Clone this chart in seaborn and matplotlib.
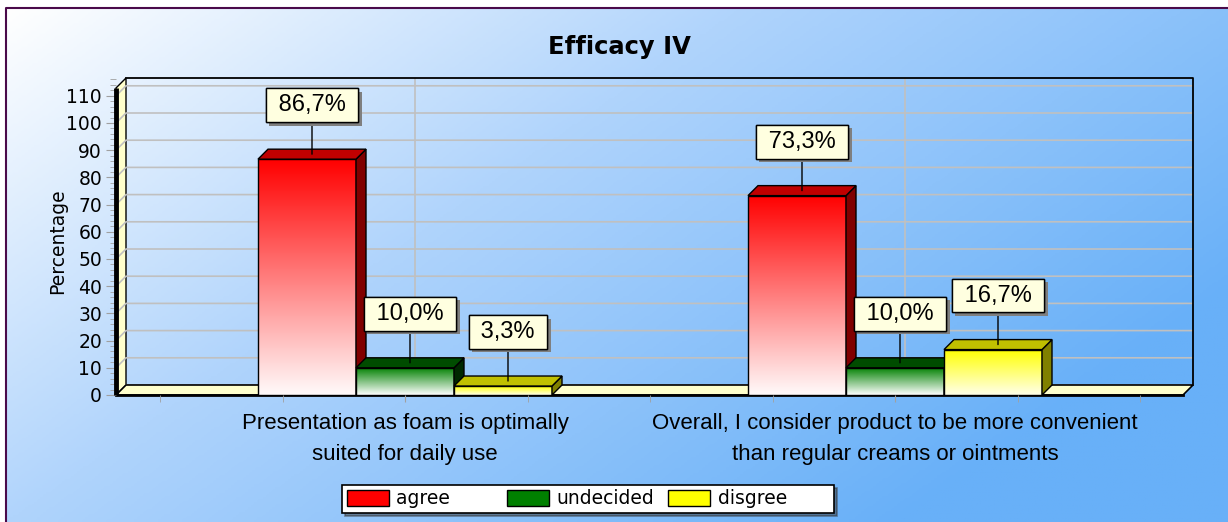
import numpy as np
import pandas as pd
import matplotlib
matplotlib.use("Agg")
import matplotlib.pyplot as plt
import matplotlib.patheffects as pe
from matplotlib import font_manager
from matplotlib.colors import LinearSegmentedColormap
from matplotlib.patches import Polygon, Patch
from matplotlib.ticker import MultipleLocator, FixedLocator
import seaborn as sns

# data
statements = [
    "Presentation as foam is optimally\nsuited for daily use",
    "Overall, I consider product to be more convenient\nthan regular creams or ointments",
]
responses = ["agree", "undecided", "disgree"]
agree = [86.7, 73.3]
undecided = [10.0, 10.0]
disagree = [3.3, 16.7]
yticks = list(range(0, 111, 10))

front_colors = {"agree": "#ff0000", "undecided": "#008000", "disgree": "#ffff00"}
bottom_colors = {"agree": "#fffafa", "undecided": "#ffffff", "disgree": "#ffffea"}
top_colors = {"agree": "#c00000", "undecided": "#004c00", "disgree": "#c0c000"}
side_colors = {"agree": "#800000", "undecided": "#002800", "disgree": "#808000"}

df = pd.DataFrame({
    "statement": statements * 3,
    "response": np.repeat(responses, len(statements)),
    "pct": agree + undecided + disagree,
})

installed = {f.name for f in font_manager.fontManager.ttflist}
if "Liberation Sans Narrow" in installed:
    narrow, lab_size, cat_size = "Liberation Sans Narrow", 19, 17
else:
    narrow, lab_size, cat_size = "Liberation Sans", 17, 16

W, H = 1228, 522
fig = plt.figure(figsize=(W / 100, H / 100), dpi=100, facecolor="white")

# background gradient + frame (left and top edges only)
bg = fig.add_axes([0, 0, 1, 1], zorder=-5)
xx, yy = np.meshgrid(np.linspace(0, 1, 400), np.linspace(0, 1, 200))
t = np.clip(0.75 * xx + 0.45 * yy, 0, 1)
bg_cmap = LinearSegmentedColormap.from_list(
    "bg", [(0, "#ffffff"), (0.45, "#b0d4fc"), (1, "#68b0f8")])
bg.imshow(t, cmap=bg_cmap, aspect="auto", extent=(6 / W, 1, 0, 1 - 8 / H),
          origin="upper", vmin=0, vmax=1)
bg.plot([6 / W, 6 / W, 1], [0, 1 - 8 / H, 1 - 8 / H], color="#4a0a4a", lw=1.5)
bg.set_xlim(0, 1)
bg.set_ylim(0, 1)
bg.axis("off")

# main axes
ax = fig.add_axes([116 / W, (H - 395) / H, 1077 / W, 317 / H])
ax.patch.set_alpha(0)
sns.barplot(data=df, x="statement", y="pct", hue="response", order=statements,
            hue_order=responses, palette=front_colors, width=0.6, errorbar=None,
            legend=False, ax=ax)

px_x, px_y = 490.0, 2.72          # pixels per data unit
xmin, xmax = -289 / px_x, 1 + 298 / px_x
x_front_right = 1 + 288 / px_x
dx, dy = 10 / px_x, 10 / px_y      # depth of the fake 3d
T = 307 / px_y                     # wall height

# back wall grid
for v in yticks:
    ax.plot([xmin, xmin + dx, xmax], [v, v + dy, v + dy], color="#c0c0c0",
            lw=1.2, zorder=0.7, clip_on=False)
for c in range(len(statements)):
    ax.plot([c + dx, c + dx], [dy, T + dy], color="#c0c0c0", lw=1.2, zorder=0.5)
ax.add_patch(Polygon([(xmin, 0), (xmin, T), (xmin + dx, T + dy), (xmin + dx, dy)],
                     fc="#ffffcc", ec="black", lw=1, zorder=0.6, clip_on=False))
ax.plot([xmin + dx, xmax, xmax], [T + dy, T + dy, dy], color="black", lw=1.3,
        zorder=0.8, clip_on=False)
ax.add_patch(Polygon([(xmin, 0), (x_front_right, 0), (xmax, dy), (xmin + dx, dy)],
                     fc="#ffffcc", ec="black", lw=1.2, zorder=1, clip_on=False))
ax.plot([xmin, xmin], [0, T], color="black", lw=3.5, zorder=5, clip_on=False,
        solid_capstyle="butt")
ax.plot([xmin, x_front_right], [0, 0], color="black", lw=2, zorder=1.5, clip_on=False)

# turn flat bars into gradient "3d" bars
grad = np.linspace(0, 1, 256).reshape(-1, 1)
for k, (cont, resp) in enumerate(zip(ax.containers, responses)):
    z = 2 + k * 0.1
    cmap = LinearSegmentedColormap.from_list(resp, [bottom_colors[resp], front_colors[resp]])
    for bar in cont:
        x0, w, h = bar.get_x(), bar.get_width(), bar.get_height()
        x1 = x0 + w
        ax.imshow(grad, cmap=cmap, extent=(x0, x1, 0, h), origin="lower",
                  aspect="auto", zorder=z, interpolation="bilinear")
        bar.set_facecolor("none")
        bar.set_edgecolor("black")
        bar.set_linewidth(1)
        bar.set_zorder(z + 0.01)
        ax.add_patch(Polygon([(x1, 0), (x1 + dx, dy), (x1 + dx, h + dy), (x1, h)],
                             fc=side_colors[resp], ec="black", lw=1, zorder=z + 0.02))
        ax.add_patch(Polygon([(x0, h), (x0 + dx, h + dy), (x1 + dx, h + dy), (x1, h)],
                             fc=top_colors[resp], ec="black", lw=1, zorder=z + 0.02))
        txt = " " + f"{h:.1f}".replace(".", ",") + "% "
        ann = ax.annotate(txt, xy=(x0 + w / 2 + dx / 2, h + dy / 2), xytext=(0, 38),
                          textcoords="offset pixels", ha="center", va="bottom",
                          fontsize=lab_size, family=narrow, zorder=10,
                          bbox=dict(boxstyle="square,pad=0.25", fc="#ffffe0", ec="black", lw=1),
                          arrowprops=dict(arrowstyle="-", color="black", lw=1,
                                          shrinkA=0, shrinkB=0))
        ann.get_bbox_patch().set_path_effects([
            pe.withSimplePatchShadow(offset=(2.5, -2.5), shadow_rgbFace="#7f7f7f", alpha=1),
            pe.Normal()])

ax.set_xlim(xmin, xmax)
ax.set_ylim(0, T + dy)
for s in ax.spines.values():
    s.set_visible(False)

ax.set_yticks(yticks)
ax.yaxis.set_minor_locator(MultipleLocator(2))
ax.tick_params(axis="y", which="major", length=7, color="#a0a0a0", labelsize=13.5, pad=3)
ax.tick_params(axis="y", which="minor", length=4, color="#a0a0a0")
ax.set_xticks(range(len(statements)))
ax.set_xticklabels(statements, family=narrow, fontsize=cat_size, linespacing=1.65)
ax.xaxis.set_minor_locator(FixedLocator([-0.5, -0.25, 0.25, 0.5, 0.75, 1.25, 1.5]))
ax.tick_params(axis="x", which="both", length=5, color="#a0a0a0", pad=8)
ax.set_xlabel("")
ax.set_ylabel("Percentage", fontsize=13.5)
ax.yaxis.set_label_coords(-0.0455, 0.484)

fig.text(619 / W, 1 - 47 / H, "Efficacy IV", ha="center", va="center",
         fontsize=17.5, fontweight="bold")

handles = [Patch(fc=front_colors[r], ec="black", lw=1) for r in responses]
leg_labels = ["agree" + " " * 7, "undecided", "disgree" + " " * 7]
leg = fig.legend(handles=handles, labels=leg_labels, loc="center",
                 bbox_to_anchor=(588 / W, 1 - 499 / H),
                 ncol=3, fontsize=13.5, frameon=True, fancybox=False,
                 shadow={"color": "#333333"}, edgecolor="black", framealpha=1,
                 handlelength=2.24, handleheight=0.96, handletextpad=0.4,
                 columnspacing=0.77, borderpad=0.25, borderaxespad=0)
leg.get_frame().set_linewidth(1.2)

fig.savefig("out.png", dpi=100)
